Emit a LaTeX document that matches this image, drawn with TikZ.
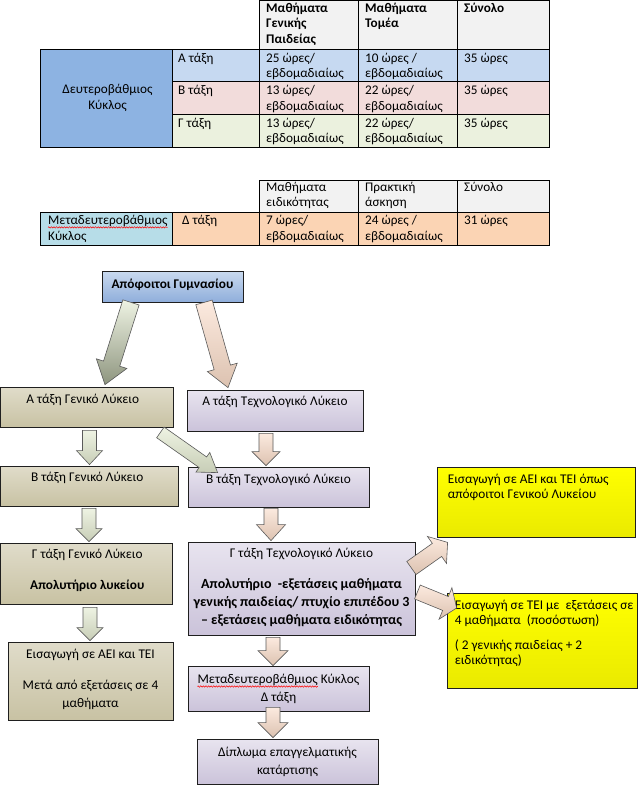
\documentclass[tikz,border=0pt]{standalone}
\usepackage{fontspec}
\setmainfont{Carlito}
\usetikzlibrary{calc,decorations.pathmorphing}
\definecolor{hdr}{HTML}{F2F2F2}
\definecolor{dblue}{HTML}{8DB3E2}
\definecolor{rowa}{HTML}{C6D9F1}
\definecolor{rowb}{HTML}{F2DCDB}
\definecolor{rowc}{HTML}{EBF1DE}
\definecolor{metab}{HTML}{B7DDE8}
\definecolor{peach}{HTML}{FBD4B4}
\definecolor{gentop}{HTML}{E0DCCA}
\definecolor{genbot}{HTML}{C8C2A3}
\definecolor{tectop}{HTML}{E8E4EF}
\definecolor{tecbot}{HTML}{CBC3DA}
\definecolor{apotop}{HTML}{CADAEF}
\definecolor{apobot}{HTML}{8FAEDB}
\definecolor{yeltop}{HTML}{FFFF00}
\definecolor{yelbot}{HTML}{EAEA00}
\definecolor{grntop}{HTML}{EEF3E3}
\definecolor{grnbot}{HTML}{C7CDB6}
\definecolor{grndark}{HTML}{8E957F}
\definecolor{pchtop}{HTML}{FCEADF}
\definecolor{pchbot}{HTML}{DCC2B0}
\definecolor{edgecol}{HTML}{1F1F1F}
\definecolor{aedge}{HTML}{5A5A5A}
\newcommand{\tabfont}{\fontsize{13.2}{15.5}\selectfont}
\newcommand{\boxfont}{\fontsize{13.3}{15}\selectfont}
\newcommand{\bigbold}{\fontsize{14}{18}\selectfont\bfseries}
\newcommand{\fatarrow}[6]{%
  \coordinate (fah) at ($(#2)!#5!(#1)$);
  \path[#6] ($(#1)!#3!90:(#2)$) -- ($(fah)!#3!90:(#2)$) -- ($(fah)!#4!90:(#2)$) -- (#2)
    -- ($(fah)!#4!-90:(#2)$) -- ($(fah)!#3!-90:(#2)$) -- ($(#1)!#3!-90:(#2)$) -- cycle;
}
\tikzset{
  tline/.style={draw=black, line width=0.9pt},
  ttext/.style={inner sep=0pt, anchor=mid west, font=\tabfont},
  ttextb/.style={ttext, font=\tabfont\bfseries},
  ctext/.style={inner sep=0pt, anchor=mid, font=\tabfont},
  fbox/.style={draw=edgecol, line width=0.8pt, inner sep=0pt, rectangle},
  genbox/.style={fbox, top color=gentop, bottom color=genbot},
  tecbox/.style={fbox, top color=tectop, bottom color=tecbot},
  apobox/.style={fbox, top color=apotop, bottom color=apobot},
  yelbox/.style={fbox, top color=yeltop, bottom color=yelbot},
  btext/.style={inner sep=0pt, anchor=mid, font=\boxfont},
  btextb/.style={btext, font=\boxfont\bfseries},
  btextbb/.style={btext, font=\bigbold},
  ltext/.style={inner sep=0pt, anchor=mid west, font=\boxfont},
  garrow/.style={draw=aedge, line width=0.6pt, top color=grntop, bottom color=grnbot},
  garrowdark/.style={draw=aedge, line width=0.6pt, top color=grntop, bottom color=grndark},
  parrow/.style={draw=aedge, line width=0.6pt, top color=pchtop, bottom color=pchbot},
  wavy/.style={draw=red, line width=0.5pt, decorate, decoration={snake, amplitude=0.7pt, segment length=2.6pt}},
}
\begin{document}
\begin{tikzpicture}[x=1pt,y=-1pt]
\useasboundingbox[fill=white] (0,0) rectangle (638,785);
% ---------- table 1 ----------
\path[tline, fill=hdr] (259,0) rectangle (358,49.3);
\path[tline, fill=hdr] (358,0) rectangle (457,49.3);
\path[tline, fill=hdr] (457,0) rectangle (549,49.3);
\path[tline, fill=dblue] (40.7,49.3) rectangle (172,147.3);
\foreach \ya/\yb/\c in {49.3/81.7/rowa, 81.7/114.3/rowb, 114.3/147.3/rowc}{
  \path[tline, fill=\c] (172,\ya) rectangle (259,\yb);
  \path[tline, fill=\c] (259,\ya) rectangle (358,\yb);
  \path[tline, fill=\c] (358,\ya) rectangle (457,\yb);
  \path[tline, fill=\c] (457,\ya) rectangle (549,\yb);
}
\node[ttextb] (h1a) at (266,10) {Μαθήματα};
\node[ttextb] (h1b) at (266,25.5) {Γενικής};
\node[ttextb] (h1c) at (266,41) {Παιδείας};
\node[ttextb] (h2a) at (365,10) {Μαθήματα};
\node[ttextb] (h2b) at (365,25.5) {Τομέα};
\node[ttextb] (h3a) at (464,10) {Σύνολο};
\node[ctext] (k1a) at (107.5,91) {Δευτεροβάθμιος};
\node[ctext] (k1b) at (107.5,107) {Κύκλος};
\node[ttext] (ra0) at (178,60) {Α τάξη};
\node[ttext] (ra1) at (266,60) {25 ώρες/};
\node[ttext] (ra2) at (266,75.5) {εβδομαδιαίως};
\node[ttext] (ra3) at (365,60) {10 ώρες /};
\node[ttext] (ra4) at (365,75.5) {εβδομαδιαίως};
\node[ttext] (ra5) at (464,60) {35 ώρες};
\node[ttext] (rb0) at (178,92.4) {Β τάξη};
\node[ttext] (rb1) at (266,92.4) {13 ώρες/};
\node[ttext] (rb2) at (266,108) {εβδομαδιαίως};
\node[ttext] (rb3) at (365,92.4) {22 ώρες/};
\node[ttext] (rb4) at (365,108) {εβδομαδιαίως};
\node[ttext] (rb5) at (464,92.4) {35 ώρες};
\node[ttext] (rc0) at (178,125) {Γ τάξη};
\node[ttext] (rc1) at (266,125) {13 ώρες/};
\node[ttext] (rc2) at (266,140.5) {εβδομαδιαίως};
\node[ttext] (rc3) at (365,125) {22 ώρες/};
\node[ttext] (rc4) at (365,140.5) {εβδομαδιαίως};
\node[ttext] (rc5) at (464,125) {35 ώρες};
% ---------- table 2 ----------
\path[tline, fill=hdr] (259,180) rectangle (358,212.3);
\path[tline, fill=hdr] (358,180) rectangle (457,212.3);
\path[tline, fill=hdr] (457,180) rectangle (549,212.3);
\path[tline, fill=metab] (40.7,212.3) rectangle (172,245.7);
\path[tline, fill=peach] (172,212.3) rectangle (259,245.7);
\path[tline, fill=peach] (259,212.3) rectangle (358,245.7);
\path[tline, fill=peach] (358,212.3) rectangle (457,245.7);
\path[tline, fill=peach] (457,212.3) rectangle (549,245.7);
\node[ttext] (g1a) at (266,189.5) {Μαθήματα};
\node[ttext] (g1b) at (266,204.5) {ειδικότητας};
\node[ttext] (g2a) at (365,189.5) {Πρακτική};
\node[ttext] (g2b) at (365,204.5) {άσκηση};
\node[ttext] (g3a) at (464,189.5) {Σύνολο};
\node[ttext] (m1a) at (48,222.5) {Μεταδευτεροβάθμιος};
\node[ttext] (m1b) at (48,238) {Κύκλος};
\node[ttext] (m2) at (182,222.5) {Δ τάξη};
\node[ttext] (m3a) at (266,222.5) {7 ώρες/};
\node[ttext] (m3b) at (266,238) {εβδομαδιαίως};
\node[ttext] (m4a) at (365,222.5) {24 ώρες /};
\node[ttext] (m4b) at (365,238) {εβδομαδιαίως};
\node[ttext] (m5) at (464,222.5) {31 ώρες};
\draw[wavy] ($(m1a.base west)+(0,2.5)$) -- ($(m1a.base east)+(0,2.5)$);
% ---------- flowchart boxes ----------
\node[apobox, minimum width=141pt, minimum height=31pt] (apo) at (172.5,286.5) {};
\node[genbox, minimum width=172.5pt, minimum height=40pt] (ag1) at (86.75,407) {};
\node[tecbox, minimum width=176pt, minimum height=41pt] (at1) at (275,410.5) {};
\node[genbox, minimum width=177.5pt, minimum height=40pt] (ag2) at (89.25,486) {};
\node[tecbox, minimum width=181pt, minimum height=40pt] (at2) at (278.5,487) {};
\node[genbox, minimum width=171.5pt, minimum height=61pt] (ag3) at (86.25,573.5) {};
\node[tecbox, minimum width=227pt, minimum height=93pt] (at3) at (301.5,588.5) {};
\node[genbox, minimum width=165pt, minimum height=78pt] (ag4) at (90.5,681) {};
\node[tecbox, minimum width=181pt, minimum height=45pt] (at4) at (278.5,688.5) {};
\node[tecbox, minimum width=181pt, minimum height=45pt] (dip) at (287.5,761.5) {};
\node[yelbox, minimum width=198pt, minimum height=70pt] (y1) at (536,502) {};
\node[yelbox, minimum width=190.5pt, minimum height=95pt] (y2) at (542.25,640.5) {};
% ---------- box texts ----------
\node[btextb] (t0) at (apo.center) {Απόφοιτοι Γυμνασίου};
\node[btext] (t1) at ($(ag1.north)+(-4,15)$) {Α τάξη Γενικό Λύκειο};
\node[btext] (t2) at ($(at1.north)+(0,14)$) {Α τάξη Τεχνολογικό Λύκειο};
\node[btext] (t3) at ($(ag2.north)+(-2,14)$) {Β τάξη Γενικό Λύκειο};
\node[btext] (t4) at ($(at2.north)+(0,15)$) {Β τάξη Τεχνολογικό Λύκειο};
\node[btext] (t5a) at ($(ag3.north)+(1,14)$) {Γ τάξη Γενικό Λύκειο};
\node[btextb] (t5b) at ($(ag3.north)+(1,45)$) {Απολυτήριο λυκείου};
\node[btext] (t6a) at ($(at3.north)+(0,14)$) {Γ τάξη Τεχνολογικό Λύκειο};
\node[btextbb] (t6b) at ($(at3.north)+(0,45)$) {Απολυτήριο\ \ -εξετάσεις μαθήματα};
\node[btextbb] (t6c) at ($(at3.north)+(0,63)$) {γενικής παιδείας/ πτυχίο επιπέδου 3};
\node[btextbb] (t6d) at ($(at3.north)+(0,81)$) {– εξετάσεις μαθήματα ειδικότητας};
\node[btext] (t7a) at ($(ag4.north)+(0,15)$) {Εισαγωγή σε ΑΕΙ και ΤΕΙ};
\node[btext] (t7b) at ($(ag4.north)+(0,46)$) {Μετά από εξετάσεις σε 4};
\node[btext] (t7c) at ($(ag4.north)+(0,64)$) {μαθήματα};
\node[btext] (t8a) at ($(at4.north)+(0,16)$) {Μεταδευτεροβάθμιος Κύκλος};
\node[btext, anchor=base west] (t8w) at (t8a.base west) {\phantom{Μεταδευτεροβάθμιος}};
\draw[wavy] ($(t8w.base west)+(0,2.5)$) -- ($(t8w.base east)+(0,2.5)$);
\node[btext] (t8b) at ($(at4.north)+(0,34)$) {Δ τάξη};
\node[btext] (t9a) at ($(dip.north)+(0,16)$) {Δίπλωμα επαγγελματικής};
\node[btext] (t9b) at ($(dip.north)+(0,34)$) {κατάρτισης};
\node[ltext] (u1a) at ($(y1.north west)+(11,15)$) {Εισαγωγή σε ΑΕΙ και ΤΕΙ όπως};
\node[ltext] (u1b) at ($(y1.north west)+(11,30)$) {απόφοιτοι Γενικού Λυκείου};
\node[ltext] (u2a) at ($(y2.north west)+(8,15)$) {Εισαγωγή σε ΤΕΙ με\ \ εξετάσεις σε};
\node[ltext] (u2b) at ($(y2.north west)+(8,30)$) {4 μαθήματα\ \ (ποσόστωση)};
\node[ltext] (u2c) at ($(y2.north west)+(8,55)$) {( 2 γενικής παιδείας + 2};
\node[ltext] (u2d) at ($(y2.north west)+(8,70)$) {ειδικότητας)};
% ---------- arrow end points ----------
\coordinate (a1s) at ($(apo.south)+(-41.5,0)$);
\coordinate (a1e) at ($(ag1.north)+(18.25,-2)$);
\coordinate (a2s) at ($(apo.south)+(31.5,0)$);
\coordinate (a2e) at ($(at1.north)+(-47,-2)$);
\coordinate (a3s) at ($(ag1.south)+(2.75,3)$);
\coordinate (a3e) at ($(ag2.north)+(0.25,-1)$);
\coordinate (a4s) at ($(ag1.south east)+(-13,5)$);
\coordinate (a4e) at ($(at2.north west)+(30,6)$);
\coordinate (a5s) at ($(at1.south)+(-9,2)$);
\coordinate (a5e) at ($(at2.north)+(-12.5,-1)$);
\coordinate (a6s) at ($(ag2.south)+(-0.25,2)$);
\coordinate (a6e) at ($(ag3.north)+(2.75,-1)$);
\coordinate (a7s) at ($(at2.south)+(-7.5,1)$);
\coordinate (a7e) at ($(at3.north)+(-30.5,-1)$);
\coordinate (a8s) at ($(ag3.south)+(3.75,3)$);
\coordinate (a8e) at ($(ag4.north)+(-0.5,-1)$);
\coordinate (a9s) at ($(at3.south)+(-28.5,2)$);
\coordinate (a9e) at ($(at4.north)+(-5.5,0)$);
\coordinate (a10s) at ($(at4.south)+(-5.5,-4)$);
\coordinate (a10e) at ($(dip.north)+(-14.5,-1)$);
\coordinate (a11s) at ($(at3.east)+(-4,-20.5)$);
\coordinate (a11e) at ($(y1.south west)+(11,5)$);
\coordinate (a12s) at ($(at3.east)+(2,3.5)$);
\coordinate (a12e) at ($(y2.west)+(10,-32.5)$);
% ---------- block arrows ----------
\fatarrow{a1s}{a1e}{8.5pt}{16pt}{22pt}{garrowdark}
\fatarrow{a2s}{a2e}{8.5pt}{15.5pt}{21pt}{parrow}
\fatarrow{a3s}{a3e}{7pt}{13pt}{14pt}{garrow}
\fatarrow{a4s}{a4e}{6.5pt}{12pt}{18pt}{garrow}
\fatarrow{a5s}{a5e}{7pt}{14pt}{14pt}{parrow}
\fatarrow{a6s}{a6e}{7pt}{13pt}{13pt}{garrow}
\fatarrow{a7s}{a7e}{7pt}{14.5pt}{16pt}{parrow}
\fatarrow{a8s}{a8e}{7pt}{13pt}{13pt}{garrow}
\fatarrow{a9s}{a9e}{7pt}{15pt}{15pt}{parrow}
\fatarrow{a10s}{a10e}{7pt}{15pt}{15pt}{parrow}
\fatarrow{a11s}{a11e}{8pt}{16.5pt}{13pt}{parrow}
\fatarrow{a12s}{a12e}{7.5pt}{17pt}{12pt}{parrow}
\end{tikzpicture}
\end{document}
